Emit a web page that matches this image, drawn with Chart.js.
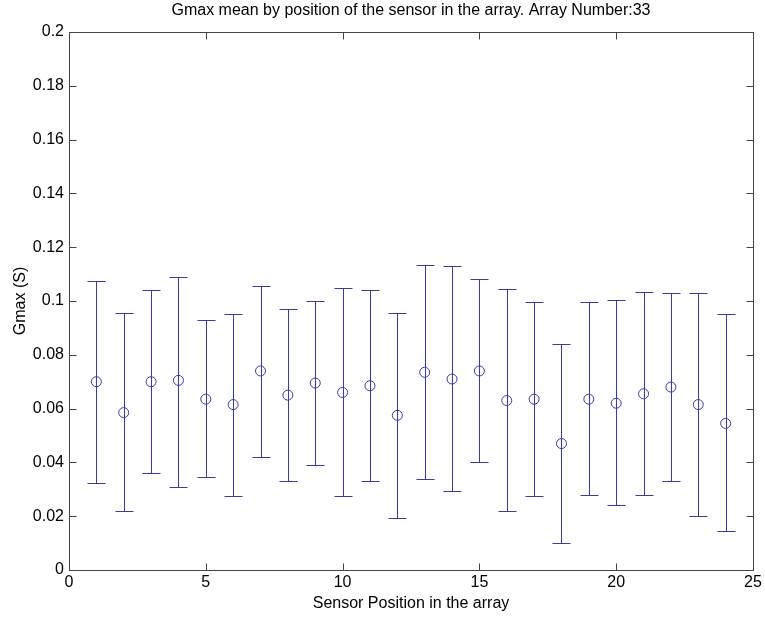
<!DOCTYPE html>
<html>
<head>
<meta charset="utf-8">
<script src="https://cdn.jsdelivr.net/npm/chart.js@4"></script>
<style>
  body { margin: 0; background: #fff; }
  canvas { display: block; }
</style>
</head>
<body>
<canvas id="canva" width="765" height="617"></canvas>
<script>
// datos
const posiciones = [1, 2, 3, 4, 5, 6, 7, 8, 9, 10, 11, 12, 13, 14, 15, 16, 17, 18, 19, 20, 21, 22, 23, 24];
const medias = [0.070, 0.0585, 0.070, 0.0705, 0.0635, 0.0615, 0.074, 0.065, 0.0695, 0.066, 0.0685, 0.0575,
    0.0735, 0.071, 0.074, 0.063, 0.0635, 0.047, 0.0635, 0.062, 0.0655, 0.068, 0.0615, 0.0545];
const superior = [0.1075, 0.0955, 0.104, 0.109, 0.093, 0.095, 0.1055, 0.097, 0.100, 0.105, 0.104, 0.0955,
    0.1135, 0.113, 0.108, 0.1045, 0.0995, 0.084, 0.0995, 0.1005, 0.1035, 0.103, 0.103, 0.095];
const inferior = [0.0325, 0.022, 0.036, 0.031, 0.0345, 0.0275, 0.042, 0.033, 0.039, 0.0275, 0.033, 0.0195,
    0.034, 0.0295, 0.040, 0.022, 0.0275, 0.010, 0.028, 0.024, 0.028, 0.033, 0.020, 0.0145];
const xTicks = [0, 5, 10, 15, 20, 25];
const yTicks = [0, 0.02, 0.04, 0.06, 0.08, 0.1, 0.12, 0.14, 0.16, 0.18, 0.2];

const titulo = "Gmax mean by position of the sensor in the array. Array Number:33";
const xLabel = "Sensor Position in the array";
const yLabel = "Gmax (S)";

const azul = "#3a3aa6";
const fuente = "Arial, 'Liberation Sans', sans-serif";

// barras de error + caja con ticks hacia dentro (estilo matlab)
const estiloMatlab = {
    id: "estiloMatlab",
    beforeDatasetsDraw(chart) {
        const c = chart.ctx;
        const xs = chart.scales.x;
        const ys = chart.scales.y;
        c.save();
        c.strokeStyle = azul;
        c.lineWidth = 1;
        for (let i = 0; i < posiciones.length; i++) {
            const px = Math.round(xs.getPixelForValue(posiciones[i])) + 0.5;
            const top = Math.round(ys.getPixelForValue(superior[i])) + 0.5;
            const bot = Math.round(ys.getPixelForValue(inferior[i])) + 0.5;
            c.beginPath();
            c.moveTo(px, top);
            c.lineTo(px, bot);
            c.moveTo(px - 9, top);
            c.lineTo(px + 9, top);
            c.moveTo(px - 9, bot);
            c.lineTo(px + 9, bot);
            c.stroke();
        }
        c.restore();
    },
    afterDraw(chart) {
        const c = chart.ctx;
        const a = chart.chartArea;
        const xs = chart.scales.x;
        const ys = chart.scales.y;
        c.save();
        c.strokeStyle = "#444";
        c.lineWidth = 1;
        const l = Math.round(a.left) + 0.5, r = Math.round(a.right) + 0.5;
        const t = Math.round(a.top) + 0.5, b = Math.round(a.bottom) + 0.5;
        c.strokeRect(l, t, r - l, b - t);
        c.beginPath();
        xTicks.forEach(v => {
            const px = Math.round(xs.getPixelForValue(v)) + 0.5;
            c.moveTo(px, b); c.lineTo(px, b - 7);
            c.moveTo(px, t); c.lineTo(px, t + 7);
        });
        yTicks.forEach(v => {
            const py = Math.round(ys.getPixelForValue(v)) + 0.5;
            c.moveTo(l, py); c.lineTo(l + 7, py);
            c.moveTo(r, py); c.lineTo(r - 7, py);
        });
        c.stroke();

        c.fillStyle = "#000";
        c.font = "16px " + fuente;
        c.textAlign = "center";
        c.textBaseline = "middle";
        c.fillText(titulo, (a.left + a.right) / 2, 11);
        c.fillText(xLabel, (a.left + a.right) / 2, 604);
        c.translate(21, (a.top + a.bottom) / 2);
        c.rotate(-Math.PI / 2);
        c.fillText(yLabel, 0, 0);
        c.restore();
    }
};

const ctx = document.getElementById("canva").getContext("2d");
const config = {
    type: "scatter",
    data: {
        datasets: [{
            label: "Gmax",
            data: posiciones.map((p, i) => ({ x: p, y: medias[i] })),
            borderColor: azul,
            backgroundColor: "rgba(0,0,0,0)",
            borderWidth: 1,
            pointRadius: 5,
            pointHoverRadius: 5
        }]
    },
    options: {
        responsive: false,
        animation: false,
        layout: { padding: { top: 32, right: 12, left: 0, bottom: 0 } },
        plugins: {
            legend: { display: false },
            tooltip: { enabled: false }
        },
        scales: {
            x: {
                type: "linear",
                min: 0,
                max: 25,
                grid: { display: false, drawTicks: false },
                border: { display: false },
                afterBuildTicks: s => { s.ticks = xTicks.map(v => ({ value: v })); },
                afterFit: s => { s.height = 47; },
                ticks: {
                    color: "#000",
                    padding: 3,
                    maxRotation: 0,
                    font: { family: fuente, size: 16 },
                    callback: v => String(v)
                }
            },
            y: {
                type: "linear",
                min: 0,
                max: 0.2,
                grid: { display: false, drawTicks: false },
                border: { display: false },
                afterBuildTicks: s => { s.ticks = yTicks.map(v => ({ value: v })); },
                afterFit: s => { s.width = 69; },
                ticks: {
                    color: "#000",
                    padding: 5,
                    font: { family: fuente, size: 16 },
                    callback: v => String(+v.toFixed(2))
                }
            }
        }
    },
    plugins: [estiloMatlab]
};
const chart = new Chart(ctx, config);
</script>
</body>
</html>
